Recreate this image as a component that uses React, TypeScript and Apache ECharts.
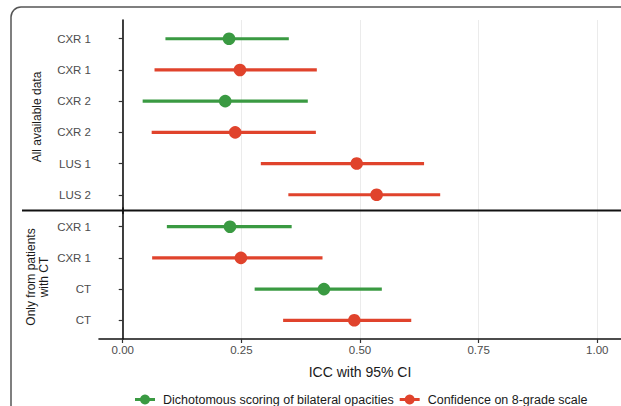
import React, { useEffect, useRef } from "react";
import * as echarts from "echarts";

const methodNames = [
  "Dichotomous scoring of bilateral opacities",
  "Confidence on 8-grade scale",
];
const methodColors = ["#3a9a42", "#e0432c"];

// Panel 1: All available data
const topLabels = ["CXR 1", "CXR 1", "CXR 2", "CXR 2", "LUS 1", "LUS 2"];
const topMethod = [0, 1, 0, 1, 1, 1];
const topEst = [0.224, 0.247, 0.216, 0.237, 0.493, 0.535];
const topLo = [0.09, 0.067, 0.042, 0.061, 0.291, 0.349];
const topHi = [0.35, 0.409, 0.39, 0.407, 0.635, 0.669];

// Panel 2: Only from patients with CT
const bottomLabels = ["CXR 1", "CXR 1", "CT", "CT"];
const bottomMethod = [0, 1, 0, 1];
const bottomEst = [0.226, 0.249, 0.424, 0.488];
const bottomLo = [0.093, 0.062, 0.278, 0.338];
const bottomHi = [0.356, 0.421, 0.546, 0.608];

const xTicks = [0, 0.25, 0.5, 0.75, 1];

function rowsFor(method: number, labels: string[], m: number[], lo: number[], est: number[], hi: number[]) {
  const out: number[][] = [];
  labels.forEach((_, i) => {
    if (m[i] === method) out.push([lo[i], est[i], hi[i], i]);
  });
  return out;
}

const renderItem = (params: any, api: any) => {
  const y = api.value(3);
  const p0 = api.coord([api.value(0), y]);
  const p1 = api.coord([api.value(1), y]);
  const p2 = api.coord([api.value(2), y]);
  const color = api.visual("color");
  return {
    type: "group",
    children: [
      {
        type: "line",
        shape: { x1: p0[0], y1: p0[1], x2: p2[0], y2: p2[1] },
        style: { stroke: color, lineWidth: 3.2 },
      },
      {
        type: "circle",
        shape: { cx: p1[0], cy: p1[1], r: 6.3 },
        style: { fill: color },
      },
    ],
  };
};

const legendIcon =
  "path://M0,3.5L5.3,3.5L5.3,6.5L0,6.5Z M14.7,3.5L20,3.5L20,6.5L14.7,6.5Z M10,0A5,5,0,1,1,9.99,0Z";

export default function App() {
  const ref = useRef<HTMLDivElement>(null);
  useEffect(() => {
    if (!ref.current) return;
    const chart = echarts.init(ref.current, null, { renderer: "svg" });
    const font = "Liberation Sans";
    const xAxisBase = (gridIndex: number, showLabels: boolean) => ({
      type: "value",
      gridIndex,
      min: -0.05,
      max: 1.05,
      axisLine: { show: showLabels, onZero: false, lineStyle: { color: "#111", width: 1.6 } },
      axisTick: {
        show: showLabels,
        customValues: xTicks,
        length: 4,
        lineStyle: { color: "#333", width: 1.2 },
      },
      axisLabel: {
        show: showLabels,
        customValues: xTicks,
        formatter: (v: number) => v.toFixed(2),
        color: "#4d4d4d",
        fontSize: 11.5,
        fontFamily: font,
        margin: 5,
      },
      splitLine: { show: true, lineStyle: { color: "#ebebeb", width: 1 } },
    });
    const yAxisBase = (gridIndex: number, labels: string[]) => {
      const idx = labels.map((_, i) => i);
      return {
        type: "value",
        gridIndex,
        inverse: true,
        min: -0.6,
        max: labels.length - 1 + 0.6,
        axisLine: { show: true, lineStyle: { color: "#111", width: 1.6 } },
        axisTick: { show: true, customValues: idx, length: 4, lineStyle: { color: "#333", width: 1.2 } },
        axisLabel: {
          show: true,
          customValues: idx,
          formatter: (v: number) => labels[Math.round(v)] ?? "",
          color: "#4d4d4d",
          fontSize: 11.5,
          fontFamily: font,
          margin: 8,
        },
        splitLine: { show: false },
      };
    };
    const series: any[] = [];
    [0, 1].forEach((m) => {
      series.push({
        type: "custom",
        name: methodNames[m],
        xAxisIndex: 0,
        yAxisIndex: 0,
        itemStyle: { color: methodColors[m] },
        encode: { x: [0, 1, 2], y: 3 },
        renderItem,
        data: rowsFor(m, topLabels, topMethod, topLo, topEst, topHi),
      });
      series.push({
        type: "custom",
        name: methodNames[m],
        xAxisIndex: 1,
        yAxisIndex: 1,
        itemStyle: { color: methodColors[m] },
        encode: { x: [0, 1, 2], y: 3 },
        renderItem,
        data: rowsFor(m, bottomLabels, bottomMethod, bottomLo, bottomEst, bottomHi),
      });
    });
    chart.setOption({
      animation: false,
      backgroundColor: "#ffffff",
      textStyle: { fontFamily: font },
      grid: [
        { left: 99, top: 20, width: 525, height: 193.5 },
        { left: 99, top: 208, width: 525, height: 131 },
      ],
      xAxis: [
        xAxisBase(0, false),
        {
          ...xAxisBase(1, true),
          name: "ICC with 95% CI",
          nameLocation: "middle",
          nameGap: 26,
          nameTextStyle: { fontSize: 14, color: "#1a1a1a", fontFamily: font },
        },
      ],
      yAxis: [yAxisBase(0, topLabels), yAxisBase(1, bottomLabels)],
      legend: {
        left: 130,
        top: 388,
        itemWidth: 20,
        itemHeight: 10,
        itemGap: 6,
        textStyle: {
          fontSize: 12.5,
          color: "#1a1a1a",
          fontFamily: font,
          padding: [0, 0, 0, 3],
        },
        data: methodNames.map((n, i) => ({
          name: n,
          icon: legendIcon,
          itemStyle: { color: methodColors[i] },
        })),
      },
      graphic: [
        {
          type: "rect",
          shape: { x: 11, y: 7, width: 700, height: 500, r: 10 },
          style: { fill: "none", stroke: "#555", lineWidth: 1.5 },
          silent: true,
        },
        {
          type: "line",
          shape: { x1: 22, y1: 210.5, x2: 621, y2: 210.5 },
          style: { stroke: "#111", lineWidth: 1.8 },
          z: 10,
        },
        {
          type: "text",
          x: 37,
          y: 117,
          rotation: Math.PI / 2,
          style: {
            text: "All available data",
            fontSize: 12,
            fontFamily: font,
            fill: "#1a1a1a",
            align: "center",
            verticalAlign: "middle",
          },
        },
        {
          type: "text",
          x: 37,
          y: 277,
          rotation: Math.PI / 2,
          style: {
            text: "Only from patients\nwith CT",
            fontSize: 12,
            lineHeight: 13,
            fontFamily: font,
            fill: "#1a1a1a",
            align: "center",
            verticalAlign: "middle",
          },
        },
      ],
      series,
    });
    return () => chart.dispose();
  }, []);
  return (
    <div
      ref={ref}
      style={{ position: "absolute", left: 0, top: 0, width: 621, height: 406 }}
    />
  );
}
